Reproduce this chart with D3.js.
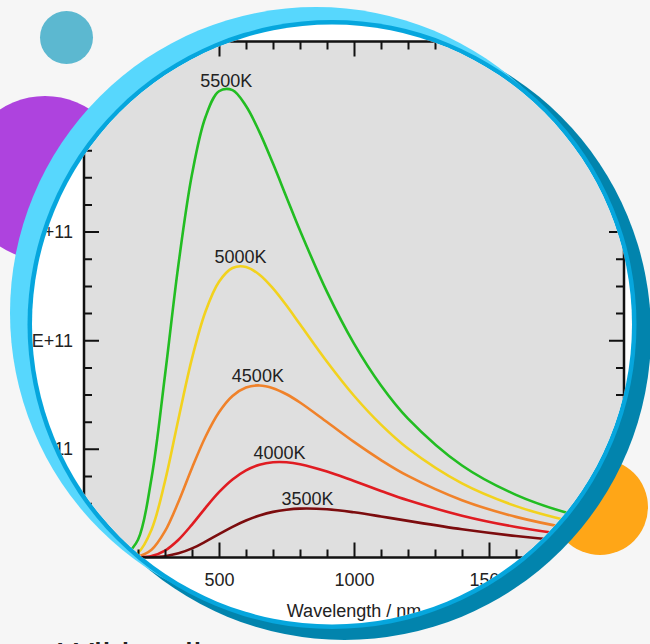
<!DOCTYPE html>
<html>
<head>
<meta charset="utf-8">
<script src="https://cdn.jsdelivr.net/npm/d3@7"></script>
<style>
  body { margin: 0; background: #f6f6f6; }
  svg { display: block; font-family: "Liberation Sans", Arial, sans-serif; }
</style>
</head>
<body>
<div id="card"></div>
<script>
// sample wavelengths (nm)
var wavelengths = [150, 200, 250, 300, 350, 400, 450, 500, 550, 600, 650, 700, 750, 800, 900, 1000, 1100, 1200, 1400, 1600, 1800, 2000];

// spectral radiance, in units of 1E+11
var t5500 = [0.009, 0.163, 0.730, 1.678, 2.700, 3.527, 4.055, 4.292, 4.302, 4.156, 3.916, 3.626, 3.317, 3.010, 2.445, 1.969, 1.584, 1.279, 0.847, 0.577, 0.403, 0.289];
var t5000 = [0.002, 0.044, 0.256, 0.702, 1.278, 1.833, 2.264, 2.538, 2.665, 2.675, 2.603, 2.477, 2.319, 2.147, 1.802, 1.489, 1.223, 1.003, 0.682, 0.473, 0.335, 0.243];
var t4500 = [0.000, 0.009, 0.071, 0.242, 0.513, 0.824, 1.112, 1.337, 1.487, 1.565, 1.584, 1.559, 1.503, 1.427, 1.247, 1.064, 0.897, 0.751, 0.527, 0.374, 0.269, 0.198];
var t4000 = [0.000, 0.001, 0.014, 0.064, 0.164, 0.303, 0.457, 0.601, 0.718, 0.802, 0.854, 0.877, 0.877, 0.859, 0.792, 0.704, 0.613, 0.527, 0.385, 0.281, 0.207, 0.155];
var t3500 = [0.000, 0.000, 0.002, 0.012, 0.038, 0.084, 0.146, 0.215, 0.282, 0.340, 0.386, 0.420, 0.440, 0.450, 0.444, 0.416, 0.378, 0.337, 0.260, 0.198, 0.150, 0.115];

var tempLabels = ["5500K", "5000K", "4500K", "4000K", "3500K"];
var peakNm = [527, 580, 644, 724, 828];
var curveColors = ["#22bd22", "#f2d21e", "#f0822a", "#e01c22", "#7c0c0e"];

var xTickValues = [0, 500, 1000, 1500, 2000];
var yTickValues = [0, 1, 2, 3, 4];
var yTickLabels = ["0", "1.0E+11", "2.0E+11", "3.0E+11", "4.0E+11"];

var width = 650, height = 644;

var svg = d3.select("#card").append("svg")
    .attr("width", width)
    .attr("height", height);

svg.append("rect")
    .attr("width", width)
    .attr("height", height)
    .attr("fill", "#f6f6f6");

// decorative blobs behind the round frame
svg.append("circle").attr("cx", 66.5).attr("cy", 37.5).attr("r", 26.5).attr("fill", "#5cb8d0");
svg.append("circle").attr("cx", 45).attr("cy", 178).attr("r", 82).attr("fill", "#ae43de");
svg.append("circle").attr("cx", 600).attr("cy", 507).attr("r", 48).attr("fill", "#ffa617");

// caption below the card, only its top edge shows
svg.append("text")
    .attr("x", 58)
    .attr("y", 670)
    .attr("font-size", 38)
    .attr("fill", "#222")
    .text("Wikipedia");

// round frame: dark shadow, light ring, thin inner ring, white face
var cx = 332, cy = 324.5, r = 300;
svg.append("circle").attr("cx", 344.5).attr("cy", 333.5).attr("r", 306.5).attr("fill", "#0284ad");
svg.append("circle").attr("cx", 316).attr("cy", 313).attr("r", 306).attr("fill", "#57d7fd");
svg.append("circle").attr("cx", cx).attr("cy", cy).attr("r", 304.5).attr("fill", "#06a6dd");
svg.append("circle").attr("cx", cx).attr("cy", cy).attr("r", r).attr("fill", "#fff");

svg.append("clipPath").attr("id", "face")
    .append("circle").attr("cx", cx).attr("cy", cy).attr("r", r);

var chart = svg.append("g").attr("clip-path", "url(#face)");

var x = d3.scaleLinear().domain([0, 2000]).range([84, 624]);
var y = d3.scaleLinear().domain([0, 4.75]).range([557.5, 41.5]);

chart.append("rect")
    .attr("x", x(0))
    .attr("y", y(4.75))
    .attr("width", x(2000) - x(0))
    .attr("height", y(0) - y(4.75))
    .attr("fill", "#dfdfdf");

var series = [t5500, t5000, t4500, t4000, t3500].map(function (vals, i) {
    return {
        label: tempLabels[i],
        color: curveColors[i],
        peak: peakNm[i],
        points: wavelengths.map(function (w, j) { return [w, vals[j]]; })
    };
});

chart.append("clipPath").attr("id", "plot")
    .append("rect")
    .attr("x", x(0)).attr("y", y(4.75))
    .attr("width", x(2000) - x(0)).attr("height", y(0) - y(4.75));

var line = d3.line()
    .x(function (d) { return x(d[0]); })
    .y(function (d) { return y(d[1]); })
    .curve(d3.curveCatmullRom.alpha(0.5));

chart.append("g").attr("clip-path", "url(#plot)")
    .selectAll("path")
    .data(series)
    .enter()
    .append("path")
    .attr("d", function (d) { return line(d.points); })
    .attr("fill", "none")
    .attr("stroke", function (d) { return d.color; })
    .attr("stroke-width", 2.6);

chart.selectAll(".curve-label")
    .data(series)
    .enter()
    .append("text")
    .attr("class", "curve-label")
    .attr("x", function (d) { return x(d.peak); })
    .attr("y", function (d) { return y(d3.max(d.points, function (p) { return p[1]; })) - 3.5; })
    .attr("text-anchor", "middle")
    .attr("font-size", 18)
    .attr("fill", "#222")
    .text(function (d) { return d.label; });

// axes, ticks pointing inwards on all four sides
var minorX = d3.range(0, 2001, 100).filter(function (v) { return v % 500 != 0; });
var minorY = d3.range(0, 4.76, 0.25).filter(function (v) { return v % 1 != 0; });

function styleAxis(g) {
    g.select(".domain").remove();
    g.selectAll("line").attr("stroke", "#111").attr("stroke-width", 2);
    g.selectAll("text").attr("font-size", 18).attr("fill", "#222")
        .attr("font-family", "Liberation Sans, Arial, sans-serif");
}

chart.append("g").attr("transform", "translate(0," + y(0) + ")")
    .call(d3.axisBottom(x).tickValues(xTickValues).tickSize(-15).tickPadding(16).tickFormat(d3.format("d")))
    .call(styleAxis);
chart.append("g").attr("transform", "translate(0," + y(0) + ")")
    .call(d3.axisBottom(x).tickValues(minorX).tickSize(-8).tickFormat(""))
    .call(styleAxis);
chart.append("g").attr("transform", "translate(0," + y(4.75) + ")")
    .call(d3.axisTop(x).tickValues(xTickValues).tickSize(-15).tickFormat(""))
    .call(styleAxis);
chart.append("g").attr("transform", "translate(0," + y(4.75) + ")")
    .call(d3.axisTop(x).tickValues(minorX).tickSize(-8).tickFormat(""))
    .call(styleAxis);

chart.append("g").attr("transform", "translate(" + x(0) + ",0)")
    .call(d3.axisLeft(y).tickValues(yTickValues).tickSize(-15).tickPadding(11)
        .tickFormat(function (d, i) { return yTickLabels[i]; }))
    .call(styleAxis);
chart.append("g").attr("transform", "translate(" + x(0) + ",0)")
    .call(d3.axisLeft(y).tickValues(minorY).tickSize(-8).tickFormat(""))
    .call(styleAxis);
chart.append("g").attr("transform", "translate(" + x(2000) + ",0)")
    .call(d3.axisRight(y).tickValues(yTickValues).tickSize(-15).tickFormat(""))
    .call(styleAxis);
chart.append("g").attr("transform", "translate(" + x(2000) + ",0)")
    .call(d3.axisRight(y).tickValues(minorY).tickSize(-8).tickFormat(""))
    .call(styleAxis);

// plot frame
chart.append("rect")
    .attr("x", x(0))
    .attr("y", y(4.75))
    .attr("width", x(2000) - x(0))
    .attr("height", y(0) - y(4.75))
    .attr("fill", "none")
    .attr("stroke", "#111")
    .attr("stroke-width", 2.5);

chart.append("text")
    .attr("x", (x(0) + x(2000)) / 2)
    .attr("y", 617)
    .attr("text-anchor", "middle")
    .attr("font-size", 18)
    .attr("fill", "#222")
    .text("Wavelength / nm");
</script>
</body>
</html>
